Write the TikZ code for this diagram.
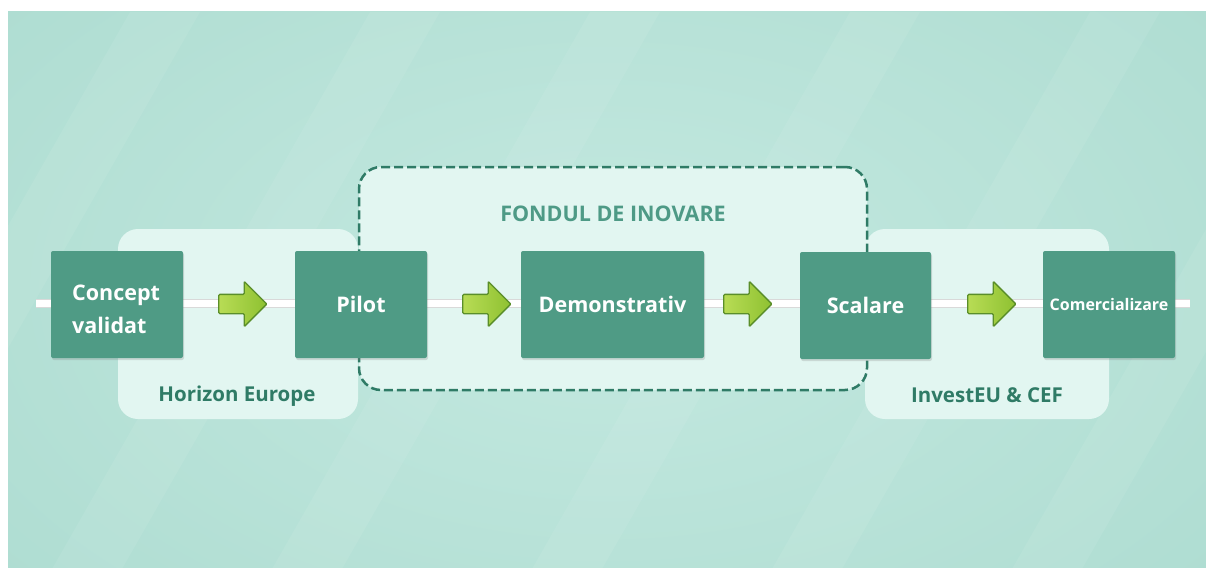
\documentclass[tikz,border=0pt]{standalone}
\usepackage{fontspec}
\setmainfont{Open Sans}
\usetikzlibrary{shapes.arrows,shadows}
\definecolor{bgteal}{HTML}{A6D8CC}
\definecolor{bglight}{HTML}{C4E9E0}
\definecolor{panelfill}{HTML}{E2F6F1}
\definecolor{boxgreen}{HTML}{4F9B85}
\definecolor{darkgreen}{HTML}{2F7B66}
\definecolor{titlegreen}{HTML}{4E9A86}
\definecolor{limeL}{HTML}{B8DC55}
\definecolor{limeR}{HTML}{8EC131}
\definecolor{limeedge}{HTML}{5A8E2A}
\tikzset{
  stagebox/.style={draw=none, fill=boxgreen, rounded corners=2pt, minimum height=107pt,
    text=white, font=\bfseries\fontsize{21.5}{30}\selectfont,
    drop shadow={shadow xshift=1pt, shadow yshift=-2pt, opacity=0.25}},
  stagetext/.style={text=white, font=\bfseries\fontsize{21.5}{33}\selectfont, inner sep=0pt},
  panelbox/.style={fill=panelfill, draw=none, rounded corners=20pt},
  fundbox/.style={fill=panelfill, draw=darkgreen, line width=2.5pt, dash pattern=on 9pt off 4pt, rounded corners=22pt},
  panellabel/.style={text=darkgreen, font=\bfseries\fontsize{20.5}{24}\selectfont, anchor=base, inner sep=0pt},
  greenarrow/.style={single arrow, draw=limeedge, line width=1.3pt, left color=limeL, right color=limeR,
    minimum height=48pt, single arrow head extend=13pt, inner sep=9pt, rounded corners=1pt},
  mainline/.style={line width=7pt, draw=white}
}
\begin{document}
\begin{tikzpicture}[x=1pt,y=-1pt]
\useasboundingbox (0,0) rectangle (1206,567);
% background
\fill[white] (0,0) rectangle (1206,567);
\begin{scope}
  \clip (8,12) rectangle (1230,590);
  \fill[bgteal] (8,12) rectangle (1230,590);
  \shade[inner color=bglight, outer color=bgteal] (607,290) ellipse [x radius=1100, y radius=650];
  \foreach \a in {-200,40,260,520,760,1000,1240}{
    \fill[white, opacity=0.07] (\a,590) -- (\a+70,590) -- (\a+400,12) -- (\a+330,12) -- cycle;
  }
\end{scope}
% panels
\node[panelbox, minimum width=240pt, minimum height=190pt] (horizon) at (238,324) {};
\node[panelbox, minimum width=244pt, minimum height=190pt] (investeu) at (987,324) {};
\node[fundbox, minimum width=508pt, minimum height=223pt] (fund) at (613,278.5) {};
\node[text=titlegreen, font=\bfseries\fontsize{21.5}{24}\selectfont, anchor=base, inner sep=0pt] (fundlbl) at (613,221) {FONDUL DE INOVARE};
\node[panellabel] (horizonlbl) at (237,401) {Horizon Europe};
\node[panellabel] (investeulbl) at (987,402) {InvestEU \& CEF};
% main line
\coordinate (lineL) at (36,303);
\coordinate (lineR) at (1190,303);
\draw[line width=9pt, draw=black!15] (lineL) -- (lineR);
\draw[mainline] (lineL) -- (lineR);
% stages
\node[stagebox, minimum width=132pt] (concept) at (117,304.5) {};
\node[stagetext, anchor=base west, align=left] (concepttxt) at (72,333) {Concept\\validat};
\node[stagebox, minimum width=132pt] (pilot) at (361,304.5) {Pilot};
\node[stagebox, minimum width=183pt] (demo) at (612.5,304.5) {Demonstrativ};
\node[stagebox, minimum width=131pt] (scalare) at (865.5,305.5) {Scalare};
\node[stagebox, minimum width=132pt, font=\bfseries\fontsize{16}{20}\selectfont] (comerc) at (1109,304.5) {Comercializare};
% arrows
\node[greenarrow] (a1) at (238,304) {};
\node[greenarrow] (a2) at (482,304) {};
\node[greenarrow] (a3) at (743,304) {};
\node[greenarrow] (a4) at (987,304) {};
\end{tikzpicture}
\end{document}
